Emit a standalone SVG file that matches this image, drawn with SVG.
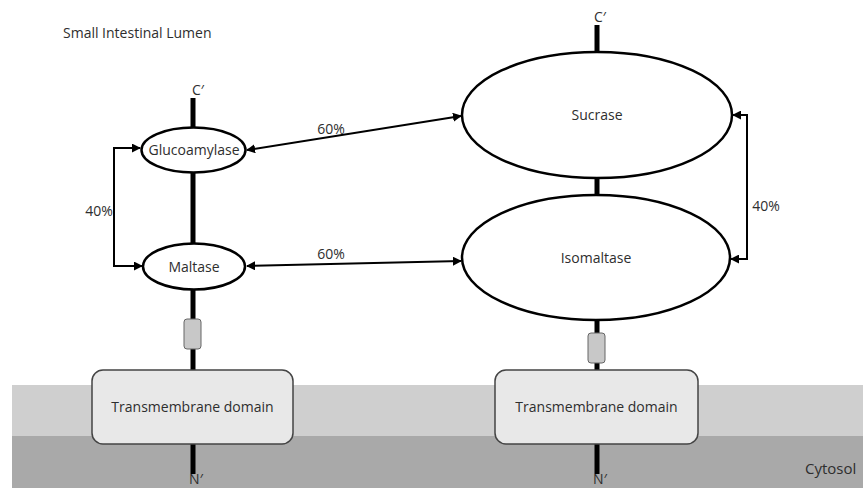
<svg xmlns="http://www.w3.org/2000/svg" width="863" height="488" viewBox="0 0 863 488">
<defs>
<marker id="ah" viewBox="0 0 10 10" refX="9" refY="5" markerWidth="4.5" markerHeight="4.5" orient="auto-start-reverse" markerUnits="strokeWidth">
<path d="M0,0 L10,5 L0,10 z" fill="#000"/>
</marker>
<style>
text{font-family:"Open Sans","Liberation Sans",sans-serif;fill:#2e2e2e;}
.lbl{font-size:14px;text-anchor:middle;}
.stalk{stroke:#000;stroke-width:5;fill:none;}
.ell{fill:#fff;stroke:#000;stroke-width:2.5;}
.link{stroke:#000;stroke-width:2;fill:none;marker-end:url(#ah);}
.tm{fill:#e8e8e8;stroke:#444;stroke-width:1.5;}
.tag{fill:#c8c8c8;stroke:#666;stroke-width:1;}
</style>
</defs>
<rect x="0" y="0" width="863" height="488" fill="#fff"/>
<rect x="12" y="385" width="851" height="51" fill="#cfcfcf"/>
<rect x="12" y="436" width="851" height="52" fill="#a9a9a9"/>
<text x="63" y="38" style="font-size:14px">Small Intestinal Lumen</text>
<text x="805" y="474" style="font-size:15px">Cytosol</text>

<g id="stalks">
<line class="stalk" x1="193" y1="98" x2="193" y2="128"/>
<line class="stalk" x1="193" y1="172" x2="193" y2="244"/>
<line class="stalk" x1="193" y1="289" x2="193" y2="371"/>
<line class="stalk" x1="193" y1="443" x2="193" y2="474"/>
<line class="stalk" x1="597" y1="25" x2="597" y2="53"/>
<line class="stalk" x1="597" y1="177" x2="597" y2="196"/>
<line class="stalk" x1="597" y1="319" x2="597" y2="371"/>
<line class="stalk" x1="597" y1="443" x2="597" y2="474"/>
<text class="lbl" x="198" y="95">C′</text>
<text class="lbl" x="600" y="22">C′</text>
<text class="lbl" x="196" y="484">N′</text>
<text class="lbl" x="600" y="484">N′</text>
</g>

<g id="glucoamylase">
<ellipse class="ell" cx="193.5" cy="150" rx="52" ry="22.5"/>
<text class="lbl" x="194" y="155">Glucoamylase</text>
</g>
<g id="maltase">
<ellipse class="ell" cx="194" cy="266.5" rx="51" ry="23"/>
<text class="lbl" x="194" y="271.5">Maltase</text>
</g>
<g id="sucrase">
<ellipse class="ell" cx="597" cy="115" rx="135" ry="63"/>
<text class="lbl" x="597" y="120">Sucrase</text>
</g>
<g id="isomaltase">
<ellipse class="ell" cx="596" cy="257.5" rx="134" ry="62.5"/>
<text class="lbl" x="596" y="262.5">Isomaltase</text>
</g>
<g id="tag-left">
<rect class="tag" x="184" y="319" width="17" height="30" rx="3"/>
</g>
<g id="tag-right">
<rect class="tag" x="588" y="333" width="17" height="30" rx="3"/>
</g>
<g id="tm-left">
<rect class="tm" x="92" y="370" width="201" height="74" rx="11"/>
<text class="lbl" x="192.5" y="412">Transmembrane domain</text>
</g>
<g id="tm-right">
<rect class="tm" x="495" y="370" width="203" height="74" rx="11"/>
<text class="lbl" x="596.5" y="412">Transmembrane domain</text>
</g>

<g id="connectors">
<line class="link" style="marker-start:url(#ah)" x1="247" y1="150" x2="461" y2="116"/>
<line class="link" style="marker-start:url(#ah)" x1="247" y1="266" x2="461" y2="261"/>
<path class="link" style="marker-start:url(#ah)" d="M140,148 H114 V266 H142"/>
<path class="link" style="marker-start:url(#ah)" d="M733,115 H747 V259 H731"/>
<text class="lbl" x="331" y="134">60%</text>
<text class="lbl" x="331" y="259">60%</text>
<text class="lbl" x="99" y="216">40%</text>
<text class="lbl" x="766" y="211">40%</text>
</g>
</svg>
